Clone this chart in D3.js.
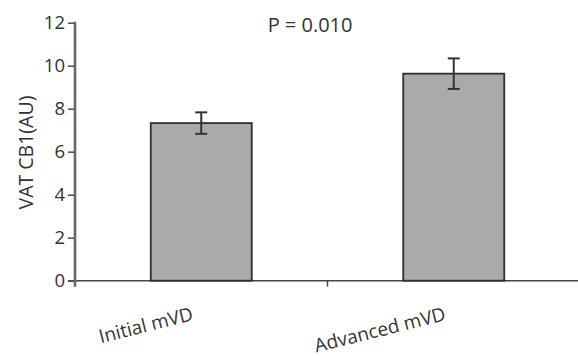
<!DOCTYPE html>
<html>
<head>
<meta charset="utf-8">
<script src="https://cdn.jsdelivr.net/npm/d3@7"></script>
<style>
  body { margin: 0; background: #fff; }
  text { font-family: "Open Sans", sans-serif; fill: #333; }
</style>
</head>
<body>
<div id="chart"></div>
<script>
let groups = ["Initial mVD", "Advanced mVD"];
let means = [7.33, 9.63];
let errors = [0.5, 0.71];
let yTicks = [0, 2, 4, 6, 8, 10, 12];
let pLabel = "P = 0.010";
let yLabel = "VAT CB1(AU)";

let W = 578, H = 356;

let svg = d3.select("#chart")
    .append("svg")
    .attr("width", W)
    .attr("height", H);

let y = d3.scaleLinear()
    .domain([0, 12])
    .range([280.7, 22.7]);

let x = d3.scaleBand()
    .domain(groups)
    .range([75, 580])
    .paddingInner(0.6)
    .paddingOuter(0.3);

let step = x.step();

// x axis line
svg.append("line")
    .attr("x1", 68).attr("x2", W)
    .attr("y1", y(0)).attr("y2", y(0))
    .attr("stroke", "#444").attr("stroke-width", 1.6);

// tick between the groups
let bounds = groups.slice(1).map(g => x(g) - step * x.paddingInner() / 2);
svg.selectAll("line.xtick")
    .data(bounds)
    .enter().append("line")
    .attr("class", "xtick")
    .attr("x1", d => d).attr("x2", d => d)
    .attr("y1", y(0)).attr("y2", y(0) + 6)
    .attr("stroke", "#444").attr("stroke-width", 1.4);

// bars
svg.selectAll("rect.bar")
    .data(groups)
    .enter().append("rect")
    .attr("class", "bar")
    .attr("x", d => x(d))
    .attr("y", (d, i) => y(means[i]))
    .attr("width", x.bandwidth())
    .attr("height", (d, i) => y(0) - y(means[i]))
    .attr("fill", "#aaaaad")
    .attr("stroke", "#2e2e2e")
    .attr("stroke-width", 1.8);

// error bars
let eb = svg.selectAll("g.err")
    .data(groups)
    .enter().append("g")
    .attr("class", "err")
    .attr("stroke", "#333")
    .attr("stroke-width", 2);

eb.append("line")
    .attr("x1", d => x(d) + x.bandwidth() / 2)
    .attr("x2", d => x(d) + x.bandwidth() / 2)
    .attr("y1", (d, i) => y(means[i] + errors[i]))
    .attr("y2", (d, i) => y(means[i] - errors[i]));

[1, -1].forEach(s => {
    eb.append("line")
        .attr("x1", d => x(d) + x.bandwidth() / 2 - 6)
        .attr("x2", d => x(d) + x.bandwidth() / 2 + 6)
        .attr("y1", (d, i) => y(means[i] + s * errors[i]))
        .attr("y2", (d, i) => y(means[i] + s * errors[i]));
});

// y axis
let yAxis = svg.append("g")
    .attr("transform", "translate(75,0)")
    .call(d3.axisLeft(y).tickValues(yTicks).tickSize(7).tickSizeOuter(0).tickPadding(3));

yAxis.select(".domain").remove();
yAxis.selectAll(".tick line").attr("stroke", "#555").attr("stroke-width", 1.6);
yAxis.selectAll(".tick text")
    .style("font-size", "18.5px")
    .style("font-family", "'Open Sans', sans-serif")
    .attr("fill", "#333");

svg.append("line")
    .attr("x1", 75).attr("x2", 75)
    .attr("y1", y(12) - 1).attr("y2", y(0) + 6)
    .attr("stroke", "#666").attr("stroke-width", 2.6);

// x labels
svg.selectAll("text.xlab")
    .data(groups)
    .enter().append("text")
    .attr("class", "xlab")
    .attr("text-anchor", "end")
    .attr("transform", d => `translate(${x(d) + x.bandwidth() / 2 - 7},320) rotate(-14)`)
    .style("font-size", "19px")
    .text(d => d);

// y label
svg.append("text")
    .attr("text-anchor", "middle")
    .attr("transform", "translate(33,152.5) rotate(-90)")
    .style("font-size", "19.5px")
    .text(yLabel);

// p value
svg.append("text")
    .attr("x", bounds[0] + 25)
    .attr("y", 31.5)
    .attr("text-anchor", "end")
    .style("font-size", "20px")
    .text(pLabel);
</script>
</body>
</html>
